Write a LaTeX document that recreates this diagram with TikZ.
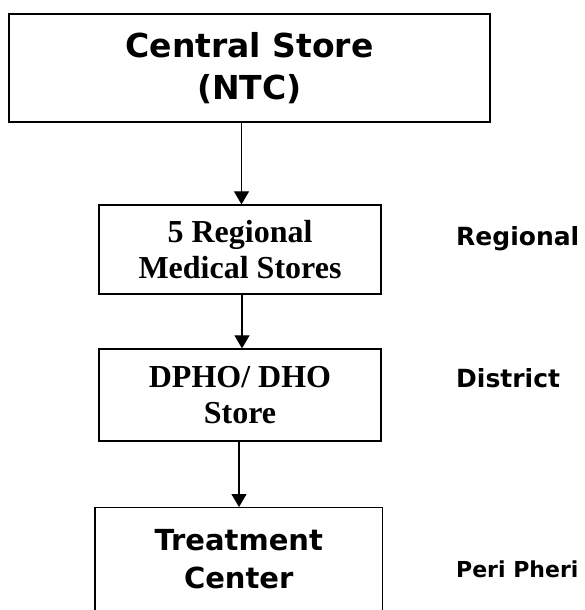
\documentclass[tikz,border=0pt]{standalone}
\usepackage{fontspec}
\newfontfamily\dvs{DejaVu Sans}
\newfontfamily\tms{Liberation Serif}
\usetikzlibrary{arrows.meta}
\tikzset{
  box/.style={draw=black, line width=1.3pt, rectangle, inner sep=0pt, align=center},
  arr/.style={line width=1.2pt, -{Triangle[width=15pt,length=13pt]}},
  lvl/.style={anchor=base west, inner sep=0pt, font=\dvs\bfseries}
}
\begin{document}
\begin{tikzpicture}[x=1pt,y=1pt]
\useasboundingbox (0,0) rectangle (585,-610);
\clip (0,0) rectangle (585,-610);
\node[box, minimum width=481pt, minimum height=108pt, font=\dvs\bfseries\fontsize{33}{42}\selectfont] (cs) at (249.5,-68) {Central Store\\(NTC)};
\node[box, minimum width=282pt, minimum height=89pt, font=\tms\bfseries\fontsize{32}{36}\selectfont] (rms) at (240,-249.5) {5 Regional\\Medical Stores};
\node[box, minimum width=282pt, minimum height=92pt, font=\tms\bfseries\fontsize{32}{36}\selectfont] (dho) at (240,-395) {DPHO/ DHO\\Store};
\node[box, minimum width=287.5pt, minimum height=160pt, anchor=north] (tc) at (238.75,-507) {};
\node[anchor=base, inner sep=0pt, align=center, font=\dvs\bfseries\fontsize{29}{38}\selectfont] (tct) at (238.75,-588) {Treatment\\Center};
\coordinate (a1) at (241.5,0);
\coordinate (a2) at (242,0);
\coordinate (a3) at (239,0);
\draw[arr] (cs.south -| a1) -- (rms.north -| a1);
\draw[arr] (rms.south -| a2) -- (dho.north -| a2);
\draw[arr] (dho.south -| a3) -- (tc.north -| a3);
\node[lvl, font=\dvs\bfseries\fontsize{25}{30}\selectfont] (lr) at (456,-245) {Regional};
\node[lvl, font=\dvs\bfseries\fontsize{25}{30}\selectfont] (ld) at (456,-387.5) {District};
\node[lvl, font=\dvs\bfseries\fontsize{22}{26}\selectfont] (lp) at (456,-577) {Peri Pheri};
\end{tikzpicture}
\end{document}
